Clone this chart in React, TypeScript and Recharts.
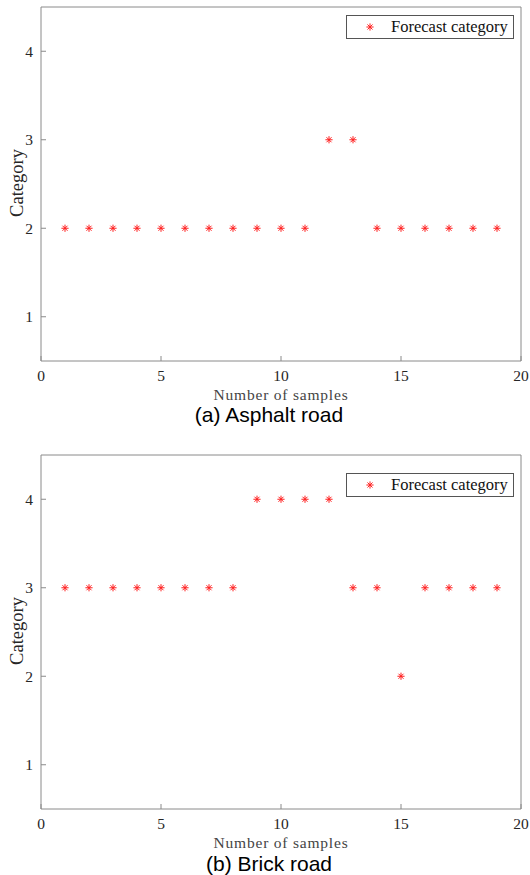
import React from 'react';
import { ScatterChart, Scatter, XAxis, YAxis } from 'recharts';

const samples = [1, 2, 3, 4, 5, 6, 7, 8, 9, 10, 11, 12, 13, 14, 15, 16, 17, 18, 19];
const asphaltCategory = [2, 2, 2, 2, 2, 2, 2, 2, 2, 2, 2, 3, 3, 2, 2, 2, 2, 2, 2];
const brickCategory = [3, 3, 3, 3, 3, 3, 3, 3, 4, 4, 4, 4, 3, 3, 2, 3, 3, 3, 3];
const xTicks = [0, 5, 10, 15, 20];
const yTicks = [1, 2, 3, 4];

const SERIF = "'Liberation Serif', 'DejaVu Serif', serif";
const SANS = "'Liberation Sans', Arial, sans-serif";
const AXIS = '#8a8a8a';
const RED = '#ff2020';

const Asterisk = (props: any) => {
  const { cx, cy } = props;
  const r = 3.6;
  const d = r * 0.7;
  return (
    <g stroke={RED} strokeWidth={1}>
      <line x1={cx - r} y1={cy} x2={cx + r} y2={cy} />
      <line x1={cx} y1={cy - r} x2={cx} y2={cy + r} />
      <line x1={cx - d} y1={cy - d} x2={cx + d} y2={cy + d} />
      <line x1={cx - d} y1={cy + d} x2={cx + d} y2={cy - d} />
    </g>
  );
};

const Nothing = () => <g />;

const tickStyle = { fontFamily: SERIF, fontSize: 15.5, fill: '#262626' };

type PanelProps = { values: number[]; top: number; caption: string; legendTop: number; captionY: number };

const Panel = ({ values, top, caption, legendTop, captionY }: PanelProps) => {
  const data = samples.map((s, i) => ({ x: s, y: values[i] }));
  return (
    <div style={{ position: 'absolute', left: 0, top, width: 530, height: 430, fontFamily: SERIF }}>
      <ScatterChart width={530} height={430} margin={{ top: 0, right: 0, bottom: 39, left: 0 }} style={{ fontFamily: SERIF }}>
        <XAxis xAxisId="b" dataKey="x" type="number" domain={[0, 20]} ticks={xTicks} height={30}
          stroke={AXIS} tickSize={-5} tickMargin={14} tick={tickStyle} allowDataOverflow />
        <XAxis xAxisId="t" orientation="top" dataKey="x" type="number" domain={[0, 20]} ticks={xTicks} height={7}
          stroke={AXIS} tickSize={-5} tick={false} allowDataOverflow />
        <YAxis yAxisId="l" dataKey="y" type="number" domain={[0.5, 4.5]} ticks={yTicks} width={41}
          stroke={AXIS} tickSize={-5} tickMargin={13} tick={tickStyle} allowDataOverflow />
        <YAxis yAxisId="r" orientation="right" dataKey="y" type="number" domain={[0.5, 4.5]} ticks={yTicks} width={9}
          stroke={AXIS} tickSize={-5} tick={false} allowDataOverflow />
        <Scatter xAxisId="b" yAxisId="l" data={data} shape={Asterisk} isAnimationActive={false} />
        <Scatter xAxisId="t" yAxisId="r" data={data} shape={Nothing} isAnimationActive={false} legendType="none" />
      </ScatterChart>
      <div style={{ position: 'absolute', left: 17, top: 183, transform: 'translate(-50%, -50%) rotate(-90deg)', fontSize: 18.5, lineHeight: 1, color: '#262626', whiteSpace: 'nowrap' }}>
        Category
      </div>
      <div style={{ position: 'absolute', left: 281, top: 395, transform: 'translate(-50%, -50%)', fontSize: 15.5, letterSpacing: 0.8, lineHeight: 1, color: '#444', whiteSpace: 'nowrap' }}>
        Number of samples
      </div>
      <div style={{ position: 'absolute', left: 269, top: captionY, transform: 'translate(-50%, -50%)', fontFamily: SANS, fontSize: 21, lineHeight: 1, color: '#000', whiteSpace: 'nowrap' }}>
        {caption}
      </div>
      <div style={{ position: 'absolute', left: 346, top: legendTop, width: 168, height: 24, border: '1px solid #555', background: '#fff', boxSizing: 'border-box' }}>
        <svg width={30} height={22} style={{ position: 'absolute', left: 9, top: 0 }}>
          <Asterisk cx={14} cy={11} />
        </svg>
        <span style={{ position: 'absolute', left: 44, top: 1, fontSize: 16.5, lineHeight: '20px', color: '#111', whiteSpace: 'nowrap' }}>
          Forecast category
        </span>
      </div>
    </div>
  );
};

export default function App() {
  return (
    <div style={{ position: 'absolute', left: 0, top: 0, width: 530, height: 875, background: '#fff' }}>
      <Panel values={asphaltCategory} top={0} caption="(a) Asphalt road" legendTop={15} captionY={413.5} />
      <Panel values={brickCategory} top={448} caption="(b) Brick road" legendTop={25} captionY={415} />
    </div>
  );
}
